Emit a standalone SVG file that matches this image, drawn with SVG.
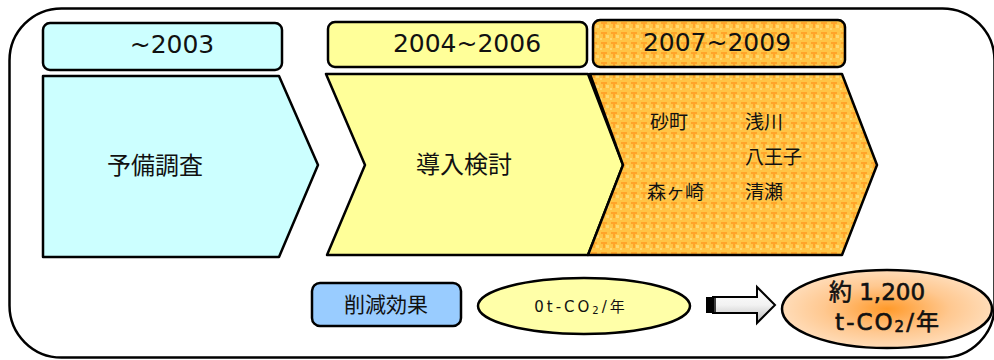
<svg xmlns="http://www.w3.org/2000/svg" width="994" height="360" viewBox="0 0 994 360">
<defs>
<style>
.ln{stroke:#000;stroke-width:2.5;stroke-linejoin:round}
.yr{font-family:"DejaVu Sans","Liberation Sans",sans-serif;font-size:25px;fill:#111;text-anchor:middle;dominant-baseline:central}
.jp{font-family:"Noto Sans CJK JP","Noto Sans",sans-serif;fill:#111;dominant-baseline:central}
.mix{font-family:"DejaVu Sans","Noto Sans CJK JP",sans-serif;fill:#111;text-anchor:middle;dominant-baseline:central}
</style>
<pattern id="org" width="10" height="10" patternUnits="userSpaceOnUse">
<rect width="10" height="10" fill="#FFC445"/>
<rect x="1" y="2" width="6" height="2" fill="#FFA42A"/>
<rect x="3" y="2" width="2" height="6" fill="#FFA42A"/>
<rect x="6" y="5" width="3" height="3" fill="#FFD870"/>
<rect x="0" y="8" width="2" height="2" fill="#FFD870"/>
</pattern>
<radialGradient id="og" cx="50%" cy="50%" r="50%">
<stop offset="0" stop-color="#FF9A2A"/>
<stop offset="0.6" stop-color="#FFC890"/>
<stop offset="1" stop-color="#FFDCB8"/>
</radialGradient>
<linearGradient id="ag" x1="0" y1="0" x2="0" y2="1">
<stop offset="0" stop-color="#FFFFFF"/>
<stop offset="0.5" stop-color="#F2F2F2"/>
<stop offset="1" stop-color="#B8B8B8"/>
</linearGradient>
</defs>
<rect id="frame" x="9.5" y="8.5" width="985" height="349" rx="52" ry="52" fill="#FFFFFF" stroke="#000" stroke-width="2.5"/>
<g id="year1">
<rect class="ln" x="43" y="23" width="239" height="47" rx="7" fill="#CCFFFF"/>
<text class="yr" x="172" y="44">~2003</text>
</g>
<g id="year2">
<rect class="ln" x="328" y="22" width="259" height="45" rx="7" fill="#FFFF99"/>
<text class="yr" x="467" y="43">2004~2006</text>
</g>
<g id="year3">
<rect class="ln" x="593" y="20" width="252" height="47" rx="7" fill="url(#org)"/>
<text class="yr" x="717" y="42">2007~2009</text>
</g>
<g id="phase1">
<polygon class="ln" points="43,76 279,76 318,165 279,257 43,257" fill="#CCFFFF"/>
<text class="jp" x="155" y="163" font-size="24" text-anchor="middle">予備調査</text>
</g>
<g id="phase2">
<polygon class="ln" points="326,74 588,74 623,165 588,255 327,255 365,165" fill="#FFFF99"/>
<text class="jp" x="464" y="162" font-size="24" text-anchor="middle">導入検討</text>
</g>
<g id="phase3">
<polygon class="ln" points="590,74 842,74 877,165 842,255 588,255 623,165" fill="url(#org)"/>
<text class="jp" x="650" y="120" font-size="19">砂町</text>
<text class="jp" x="745" y="120" font-size="19">浅川</text>
<text class="jp" x="745" y="155" font-size="19">八王子</text>
<text class="jp" x="647" y="190" font-size="19">森ヶ崎</text>
<text class="jp" x="745" y="190" font-size="19">清瀬</text>
</g>
<g id="effect">
<rect class="ln" x="312" y="283" width="149" height="43" rx="8" fill="#99CCFF"/>
<text class="jp" x="386" y="303" font-size="21" text-anchor="middle">削減効果</text>
</g>
<g id="before">
<ellipse class="ln" cx="584" cy="306" rx="106" ry="28" fill="#FFFFA8"/>
<text class="mix" x="581" y="307" font-size="15" letter-spacing="3">0t-CO<tspan font-size="10" dy="3">2</tspan><tspan dy="-3">/年</tspan></text>
</g>
<g id="connectors">
<path d="M713,297 H757 V287 L775,305 L757,323 V313 H713 Z" fill="url(#ag)" stroke="#000" stroke-width="2" stroke-linejoin="miter"/>
<rect x="706" y="297" width="6" height="16" fill="#000"/>
<line x1="715" y1="298" x2="715" y2="312" stroke="#000" stroke-width="1.5"/>
</g>
<g id="after">
<ellipse class="ln" cx="887" cy="309" rx="105" ry="39" fill="url(#og)"/>
<text class="mix" x="877" y="292" font-size="23" stroke="#111" stroke-width="0.6">約 1,200</text>
<text class="mix" x="888" y="322" font-size="23" letter-spacing="2" stroke="#111" stroke-width="0.6">t-CO<tspan font-size="15" dy="5">2</tspan><tspan dy="-5">/年</tspan></text>
</g>
</svg>
